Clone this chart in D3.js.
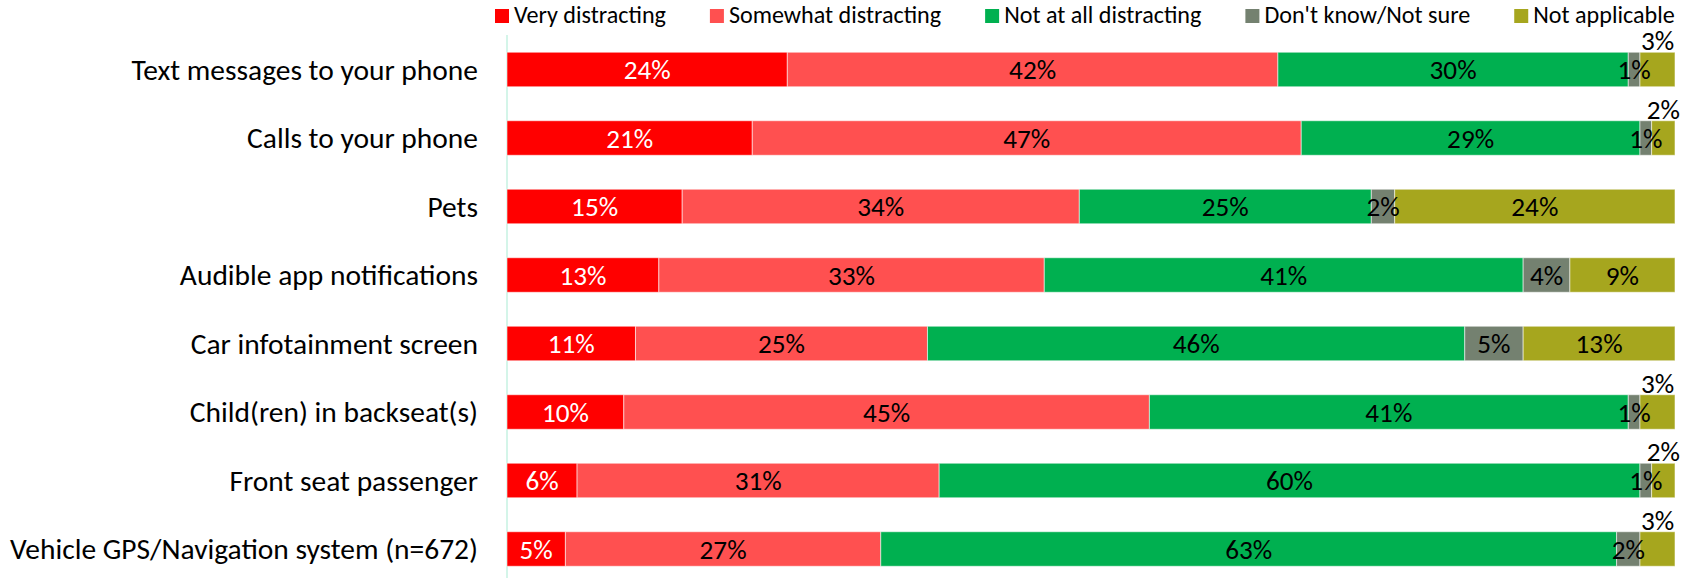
<!DOCTYPE html>
<html>
<head>
<meta charset="utf-8">
<script src="https://cdn.jsdelivr.net/npm/d3@7"></script>
<style>
  body { margin: 0; background: #fff; }
  svg { display: block; }
</style>
</head>
<body>
<svg id="chart" width="1691" height="578"></svg>
<script>
// Survey: how distracting is each item while driving (% of respondents)
const categories = [
  "Text messages to your phone",
  "Calls to your phone",
  "Pets",
  "Audible app notifications",
  "Car infotainment screen",
  "Child(ren) in backseat(s)",
  "Front seat passenger",
  "Vehicle GPS/Navigation system (n=672)"
];
const seriesNames = ["Very distracting", "Somewhat distracting", "Not at all distracting", "Don't know/Not sure", "Not applicable"];
const veryDistracting     = [24, 21, 15, 13, 11, 10, 6, 5];
const somewhatDistracting = [42, 47, 34, 33, 25, 45, 31, 27];
const notAtAllDistracting = [30, 29, 25, 41, 46, 41, 60, 63];
const dontKnowNotSure     = [1, 1, 2, 4, 5, 1, 1, 2];
const notApplicable       = [3, 2, 24, 9, 13, 3, 2, 3];

const seriesColors = ["#ff0000", "#ff5050", "#00b050", "#748170", "#a6a61e"];
const labelColors  = ["#ffffff", "#000000", "#000000", "#000000", "#000000"];

const seriesValues = [veryDistracting, somewhatDistracting, notAtAllDistracting, dontKnowNotSure, notApplicable];
const rows = categories.map((c, i) => {
  const r = { category: c };
  seriesNames.forEach((s, j) => { r[s] = seriesValues[j][i]; });
  return r;
});

const FONT = "Carlito, Calibri, Lato, 'Open Sans', sans-serif";
const svg = d3.select("#chart");

// pick a font size so that a sample string renders at a given width
function fitSize(sample, targetWidth) {
  const t = svg.append("text").attr("font-family", FONT).attr("font-size", 100).text(sample);
  const w = t.node().getComputedTextLength();
  t.remove();
  return 100 * targetWidth / w;
}
const catSize = fitSize("Vehicle GPS/Navigation system (n=672)", 468);
const legSize = fitSize("Very distracting", 152);
const valSize = fitSize("24%", 47);

const x = d3.scaleLinear().domain([0, 100]).range([507, 1675]);
const y = d3.scaleBand().domain(categories).range([35.25, 583.25]).paddingInner(0.496).paddingOuter(0.248);

const stacked = d3.stack().keys(seriesNames)(rows);

// category axis baseline
svg.append("line")
  .attr("x1", x(0)).attr("x2", x(0))
  .attr("y1", 35).attr("y2", 578)
  .attr("stroke", "#d4f5e9").attr("stroke-width", 2);

// bars
const layers = svg.append("g").selectAll("g")
  .data(stacked).join("g")
  .attr("fill", (d, i) => seriesColors[i]);

layers.selectAll("rect")
  .data(d => d.map(p => ({ p, key: d.key })))
  .join("rect")
  .attr("x", d => x(d.p[0]))
  .attr("y", d => y(d.p.data.category))
  .attr("width", d => x(d.p[1]) - x(d.p[0]))
  .attr("height", y.bandwidth())
  .attr("stroke", "#ffffff").attr("stroke-opacity", 0.55).attr("stroke-width", 1);

// value labels; thin "Not applicable" slices get their label above the bar end
stacked.forEach((layer, si) => {
  layer.forEach(p => {
    const v = p[1] - p[0];
    const cx = (x(p[0]) + x(p[1])) / 2;
    const top = y(p.data.category);
    const small = si === seriesNames.length - 1 && v < 4;
    svg.append("text")
      .attr("font-family", FONT)
      .attr("font-size", valSize)
      .attr("fill", labelColors[si])
      .attr("text-anchor", "middle")
      .attr("x", cx)
      .attr("y", small ? top - 2 : top + y.bandwidth() / 2)
      .attr("dy", small ? 0 : "0.35em")
      .text(v + "%");
  });
});

// category labels
svg.append("g").selectAll("text")
  .data(categories).join("text")
  .attr("font-family", FONT)
  .attr("font-size", catSize)
  .attr("fill", "#000")
  .attr("text-anchor", "end")
  .attr("x", 478)
  .attr("y", d => y(d) + y.bandwidth() / 2)
  .attr("dy", "0.35em")
  .text(d => d);

// legend
const legend = svg.append("g");
let lx = 495;
seriesNames.forEach((name, i) => {
  legend.append("rect")
    .attr("x", lx).attr("y", 9).attr("width", 14).attr("height", 14)
    .attr("fill", seriesColors[i]);
  const t = legend.append("text")
    .attr("font-family", FONT)
    .attr("font-size", legSize)
    .attr("fill", "#000")
    .attr("x", lx + 19).attr("y", 22.5)
    .text(name);
  lx += 19 + t.node().getComputedTextLength() + 44;
});
</script>
</body>
</html>
